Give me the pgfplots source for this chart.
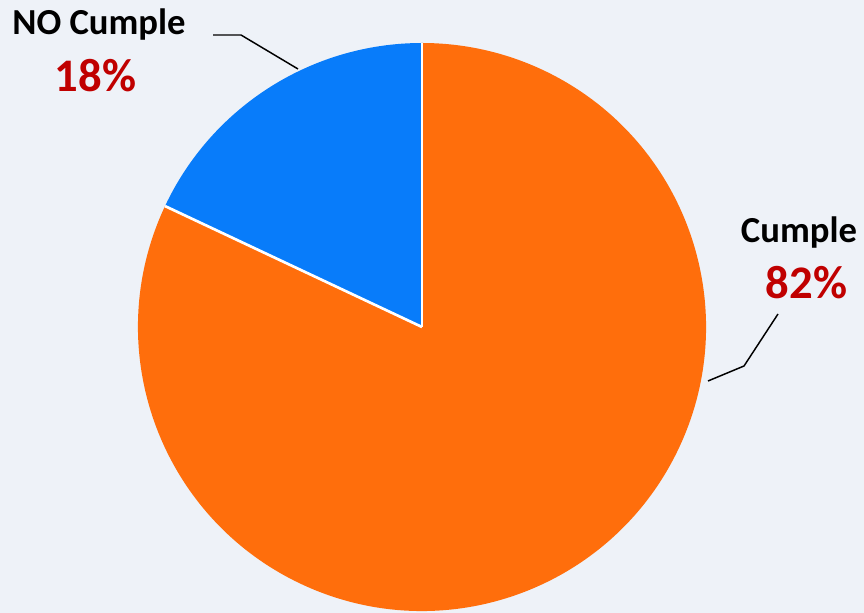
\documentclass[border=0pt]{standalone}
\usepackage{pgfplots}
\pgfplotsset{compat=1.18}
\usepackage{pgfplotstable}
\usepackage{fontspec}
\setmainfont{Carlito}

\definecolor{bg}{RGB}{238,242,248}
\definecolor{pieblue}{RGB}{8,124,250}
\definecolor{pieorange}{RGB}{255,110,12}
\definecolor{pctred}{RGB}{192,0,0}

% share of each slice, in percent
\pgfplotstableread{
label value
NOCumple 18
Cumple 82
}\piedata

\begin{document}
\begin{tikzpicture}
\pgfplotstablegetelem{0}{value}\of\piedata \let\vno\pgfplotsretval
\pgfplotstablegetelem{1}{value}\of\piedata \let\vyes\pgfplotsretval
\pgfmathsetmacro\aend{90+3.6*\vno}
\def\r{213pt}
\begin{axis}[
    hide axis,
    scale only axis,
    width=648pt, height=459.75pt,
    xmin=0, xmax=864, ymin=0, ymax=613,
    clip=false,
]
\fill[bg] (axis cs:0,0) rectangle (axis cs:864,613);
\coordinate (bl) at (axis cs:0,0);
\coordinate (tr) at (axis cs:864,613);
\coordinate (c) at (axis cs:422,286);

% slices
\fill[pieorange] (c) -- ++(\aend:\r) arc[start angle=\aend, end angle=450, radius=\r] -- cycle;
\fill[pieblue] (c) -- ++(90:\r) arc[start angle=90, end angle=\aend, radius=\r] -- cycle;
\draw[white, line width=2pt] (c) -- ++(90:\r);
\draw[white, line width=2pt] (c) -- ++(\aend:\r);

% leader lines
\draw[black, line width=1.1pt] (axis cs:213,578) -- (axis cs:241,578) -- (axis cs:298,544);
\draw[black, line width=1.1pt] (axis cs:778,299) -- (axis cs:744,247) -- (axis cs:708,232);

% labels
\node[anchor=base, inner sep=0pt, font=\fontsize{27.5}{30}\selectfont\bfseries] at (axis cs:99,578) {NO Cumple};
\node[anchor=base, inner sep=0pt, text=pctred, font=\fontsize{35}{40}\selectfont\bfseries] at (axis cs:95.5,521) {\pgfmathprintnumber[fixed,precision=0,assume math mode=true]{\vno}\%};
\node[anchor=base, inner sep=0pt, font=\fontsize{27.5}{30}\selectfont\bfseries] at (axis cs:799,370) {Cumple};
\node[anchor=base, inner sep=0pt, text=pctred, font=\fontsize{35}{40}\selectfont\bfseries] at (axis cs:806.5,314) {\pgfmathprintnumber[fixed,precision=0,assume math mode=true]{\vyes}\%};
\end{axis}
\pgfresetboundingbox
\useasboundingbox (bl) rectangle (tr);
\end{tikzpicture}
\end{document}
